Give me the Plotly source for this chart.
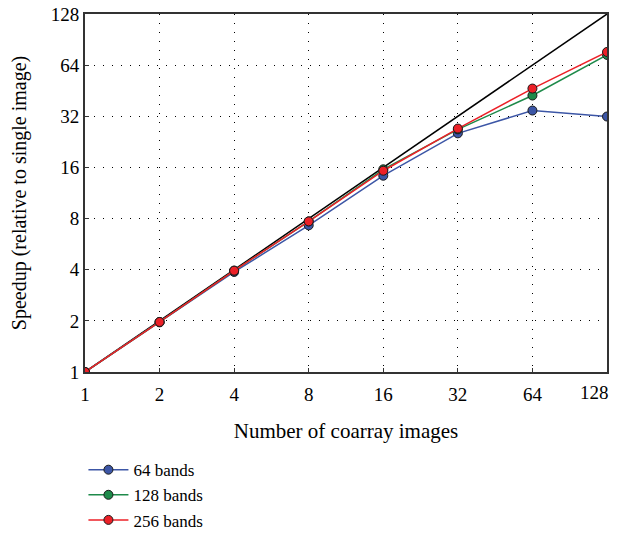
import plotly.graph_objects as go

images = [1, 2, 4, 8, 16, 32, 64, 128]
ideal = [1, 2, 4, 8, 16, 32, 64, 128]
speedup_64 = [1, 1.96, 3.88, 7.3, 14.3, 25.4, 34.6, 31.9]
speedup_128 = [1, 1.97, 3.95, 7.7, 15.6, 26.8, 42.4, 73.5]
speedup_256 = [1, 1.97, 3.95, 7.7, 15.3, 27.1, 46.6, 76.5]
tick_vals = [1, 2, 4, 8, 16, 32, 64, 128]
tick_text = ["1", "2", "4", "8", "16", "32", "64", "128"]

font_family = "Liberation Serif, Times New Roman, serif"
fs = 19

# last x label drawn as a right-anchored annotation so it stays inside the page
x_tick_text = tick_text[:-1] + [""]

fig = go.Figure()
fig.add_trace(go.Scatter(x=images, y=ideal, mode="lines",
                         line=dict(color="black", width=1.5), showlegend=False,
                         hoverinfo="skip"))
series = [
    ("64 bands", speedup_64, "#3c56a6"),
    ("128 bands", speedup_128, "#1e8a4a"),
    ("256 bands", speedup_256, "#ec2027"),
]
for name, vals, col in series:
    fig.add_trace(go.Scatter(
        x=images, y=vals, mode="lines+markers", name=name,
        line=dict(color=col, width=1.5),
        marker=dict(color=col, size=9, line=dict(color="#1a1a1a", width=1)),
    ))

axis_common = dict(
    type="log", tickvals=tick_vals,
    showgrid=True, gridcolor="black", gridwidth=1, griddash="1px,8px",
    showline=True, linecolor="#333333", linewidth=2, mirror=True,
    ticks="inside", ticklen=4, tickcolor="#333333",
    tickfont=dict(family=font_family, size=fs, color="black"),
    zeroline=False, automargin=False, ticklabeloverflow="allow",
)

fig.add_annotation(x=1, xref="paper", y=0, yref="paper", text=tick_text[-1],
                   showarrow=False, xanchor="right", yanchor="top",
                   xshift=4, yshift=-8,
                   font=dict(family=font_family, size=fs, color="black"))

fig.update_layout(
    width=619, height=535,
    margin=dict(l=77, r=20, t=6, b=170),
    plot_bgcolor="white", paper_bgcolor="white",
    font=dict(family=font_family, size=fs, color="black"),
    xaxis=dict(axis_common, range=[0, 2.10721], ticklabelstandoff=4,
               ticktext=x_tick_text,
               title=dict(text="Number of coarray images", standoff=20,
                          font=dict(family=font_family, size=21))),
    yaxis=dict(axis_common, range=[0, 2.10721], ticktext=tick_text,
               title=dict(text="Speedup (relative to single image)", standoff=24,
                          font=dict(family=font_family, size=20))),
    legend=dict(x=-0.003, xanchor="left", y=-0.46, yanchor="bottom",
                font=dict(family=font_family, size=17),
                tracegroupgap=0, itemwidth=40, bgcolor="rgba(0,0,0,0)"),
    showlegend=True,
)

fig.write_html("out.html")
